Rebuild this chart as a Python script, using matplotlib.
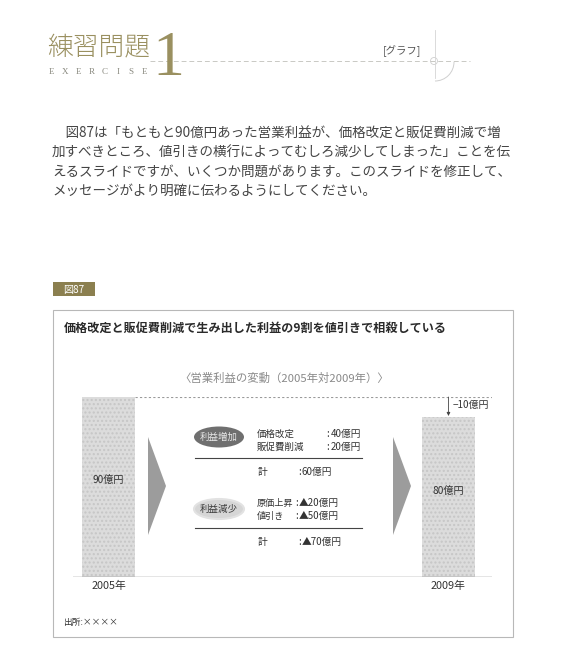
import matplotlib
matplotlib.use("Agg")
import matplotlib.pyplot as plt
from matplotlib.patches import Polygon, Ellipse, Rectangle, Arc, Circle

plt.rcParams['font.family'] = ['Noto Sans CJK JP', 'DejaVu Sans']

# page text
header = "練習問題"
header_num = "1"
header_sub = "EXERCISE"
header_tag = "[グラフ]"
paragraph = [
    "　図87は「もともと90億円あった営業利益が、価格改定と販促費削減で増",
    "加すべきところ、値引きの横行によってむしろ減少してしまった」ことを伝",
    "えるスライドですが、いくつか問題があります。このスライドを修正して、",
    "メッセージがより明確に伝わるようにしてください。",
]
fig_label = "図87"
chart_title = "価格改定と販促費削減で生み出した利益の9割を値引きで相殺している"
chart_subtitle = "〈営業利益の変動（2005年対2009年）〉"
source = "出所:××××"

# data
years = ["2005年", "2009年"]
profit = [90, 80]  # 億円
inc_items = ["価格改定", "販促費削減"]
inc_vals = [40, 20]
dec_items = ["原価上昇", "値引き"]
dec_vals = [20, 50]

W, H = 569, 671
fig = plt.figure(figsize=(W / 100, H / 100), dpi=100)
fig.patch.set_facecolor("white")

page = fig.add_axes([0, 0, 1, 1])
page.set_xlim(0, W)
page.set_ylim(H, 0)
page.axis("off")

olive = "#9a9060"
ink = "#333333"

# header
page.plot([150, 470], [61, 61], color="#c9c9c4", lw=0.7, ls=(0, (5, 3)))
page.text(47, 47, header, fontsize=18.5, color=olive, va="center", ha="left",
          weight="light")
page.text(152, 75, header_num, fontsize=46, color=olive, va="baseline", ha="left",
          family="Liberation Serif")
for k, ch in enumerate(header_sub):
    page.text(52 + k * 13.2, 72, ch, fontsize=6.5, color="#8a8a80", va="center",
              ha="center", family="Liberation Serif")
page.text(402, 51, header_tag, fontsize=7.5, color="#555555", ha="center", va="center",
          style="italic")
page.plot([435, 435], [30, 78], color="#d5d5d5", lw=0.6)
page.add_patch(Arc((435, 62), 38, 38, theta1=0, theta2=90, color="#cfcfcf", lw=0.7))
page.add_patch(Circle((434, 61), 3.5, fill=False, ec="#cfcfcf", lw=0.6))

# paragraph
for i, line in enumerate(paragraph):
    page.text(52, 134 + i * 19, line, fontsize=9.75, color="#444444", va="center",
              ha="left")

# figure label
page.add_patch(Rectangle((53, 282), 42, 14, fc="#8b7f4f", ec="none"))
page.text(74, 289.5, fig_label, fontsize=7.2, color="white", ha="center", va="center")

# chart box
page.add_patch(Rectangle((53, 310), 460, 327, fc="white", ec="#b8b8b8", lw=0.8))
page.text(64, 328, chart_title, fontsize=8.7, weight="bold", color="#2a2a2a", va="center")
page.text(284, 378, chart_subtitle, fontsize=8.2, color="#8a8a8a", ha="center",
          va="center")
page.text(63, 622, source, fontsize=6.3, color=ink, va="center")

# chevrons
for x0 in (148, 393):
    page.add_patch(Polygon([(x0, 437), (x0 + 18, 486), (x0, 535)], closed=True,
                           fc="#9c9c9c", ec="none"))

# middle breakdown
page.add_patch(Ellipse((219, 437), 50, 21, fc="#6f6f6f", ec="none"))
page.text(219, 437, "利益増加", fontsize=6.8, color="#e8e8e8", ha="center", va="center")
for j, (name, v) in enumerate(zip(inc_items, inc_vals)):
    y = 434 + j * 13
    page.text(257, y, name, fontsize=6.8, color=ink, va="center")
    page.text(326, y, ":", fontsize=7, color=ink, va="center")
    page.text(331, y, "%d億円" % v, fontsize=7, color=ink, va="center")
page.plot([195, 362], [458, 458], color="#444444", lw=0.8)
page.text(258, 472, "計", fontsize=7, color=ink, va="center")
page.text(298, 472, ":", fontsize=7, color=ink, va="center")
page.text(302, 472, "%d億円" % sum(inc_vals), fontsize=7, color=ink, va="center")

page.add_patch(Ellipse((219, 509), 50, 20, fc="#d6d6d6", ec="#e2e2e2", lw=1.5))
page.text(219, 509, "利益減少", fontsize=6.8, color="#3a3a3a", ha="center", va="center")
for j, (name, v) in enumerate(zip(dec_items, dec_vals)):
    y = 503 + j * 13
    page.text(257, y, name, fontsize=6.6, color=ink, va="center")
    page.text(295.5, y, ":", fontsize=7, color=ink, va="center")
    page.text(299, y, "▲%d億円" % v, fontsize=7, color=ink, va="center")
page.plot([195, 362], [528, 528], color="#444444", lw=0.8)
page.text(258, 542, "計", fontsize=7, color=ink, va="center")
page.text(298, 542, ":", fontsize=7, color=ink, va="center")
page.text(302, 542, "▲%d億円" % sum(dec_vals), fontsize=7, color=ink, va="center")

# bar chart axes: baseline at y=577px, 90 at y=397px
ax = fig.add_axes([73 / W, (H - 577) / H, (492 - 73) / W, 180 / H])
ax.set_xlim(-0.1044, 1.128)
ax.set_ylim(0, 90)
ax.axis("off")
ax.patch.set_alpha(0)

xs = [0, 1]
ax.bar(xs, profit, width=0.156, color="#dcdcdc", edgecolor="#c6c6c6", linewidth=0,
       hatch="....")
ax.axhline(0, color=ink, lw=0.9)
ax.hlines(profit[0], xs[0] + 0.078, 1.128, colors="#9a9a9a", lw=0.8,
          linestyles=(0, (2, 2)))
ax.annotate("", xy=(1.0, profit[1] + 0.5), xytext=(1.0, profit[0]),
            arrowprops=dict(arrowstyle="-|>", color="#444444", lw=0.6,
                            mutation_scale=5, shrinkA=0, shrinkB=0))
ax.text(1.012, (profit[0] + profit[1]) / 2 + 1, "−%d億円" % (profit[0] - profit[1]),
        fontsize=7.2, color=ink, va="center", ha="left")
for x, v, yr in zip(xs, profit, years):
    ax.text(x, v * 0.54, "%d億円" % v, fontsize=7.3, color=ink, ha="center", va="center")
    ax.text(x, -4.6, yr, fontsize=7.8, color=ink, ha="center", va="center", clip_on=False)

fig.savefig("out.png", dpi=100, facecolor="white")
